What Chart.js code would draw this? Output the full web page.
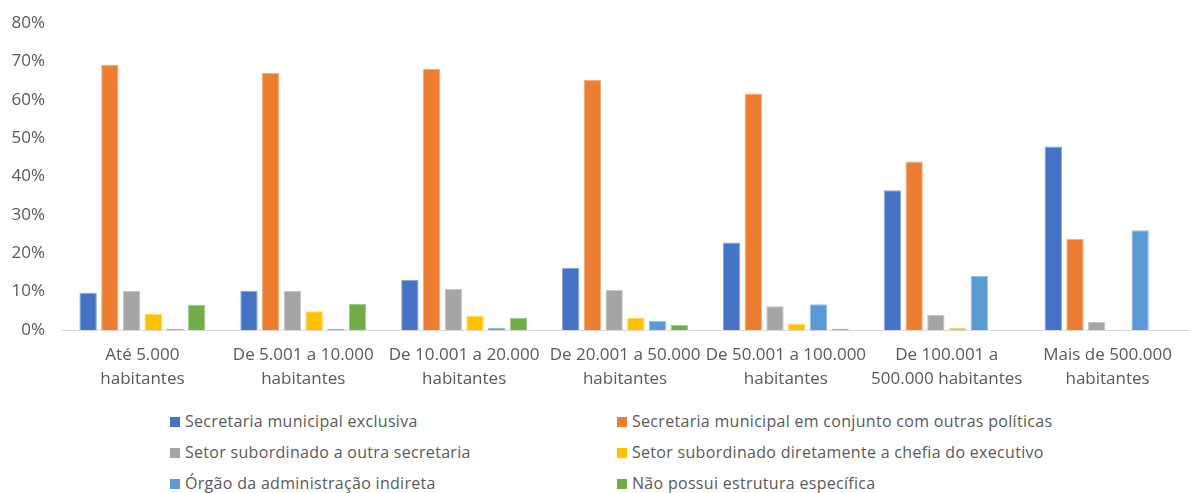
<!DOCTYPE html>
<html>
<head>
<meta charset="utf-8">
<script src="https://cdn.jsdelivr.net/npm/chart.js@4"></script>
<style>
  body { margin: 0; background: #fff; font-family: "Open Sans", sans-serif; }
  #wrap { position: relative; width: 1189px; height: 493px; }
  #chart { position: absolute; left: 0; top: 0; }
  .leg { position: absolute; font-size: 16px; letter-spacing: 0.3px; color: #595959; white-space: nowrap; line-height: 20px; }
  .leg span { display: inline-block; width: 10px; height: 10px; margin-right: 5px; vertical-align: 0px; }
</style>
</head>
<body>
<div id="wrap">
  <canvas id="chart" width="1189" height="400"></canvas>
  <div id="legend"></div>
</div>
<script>
// faixas de população
const categories = [
    ['Até 5.000', 'habitantes'],
    ['De 5.001 a 10.000', 'habitantes'],
    ['De 10.001 a 20.000', 'habitantes'],
    ['De 20.001 a 50.000', 'habitantes'],
    ['De 50.001 a 100.000', 'habitantes'],
    ['De 100.001 a', '500.000 habitantes'],
    ['Mais de 500.000', 'habitantes']
];

const seriesNames = [
    'Secretaria municipal exclusiva',
    'Secretaria municipal em conjunto com outras políticas',
    'Setor subordinado a outra secretaria',
    'Setor subordinado diretamente a chefia do executivo',
    'Órgão da administração indireta',
    'Não possui estrutura específica'
];

const seriesColors = ['#4472C4', '#ED7D31', '#A5A5A5', '#FFC000', '#5B9BD5', '#70AD47'];

// valores em %
const secExclusiva  = [9.7, 10.2, 13.1, 16.2, 22.8, 36.4, 47.8];
const secConjunto   = [69.1, 67.0, 68.0, 65.2, 61.6, 43.9, 23.8];
const setorOutraSec = [10.2, 10.2, 10.7, 10.4, 6.2, 4.0, 2.1];
const setorChefia   = [4.2, 4.9, 3.7, 3.2, 1.6, 0.6, 0];
const orgaoIndireta = [0.35, 0.35, 0.6, 2.4, 6.7, 14.1, 26.0];
const naoPossui     = [6.6, 6.8, 3.2, 1.4, 0.35, 0, 0];

const yTicks = [0, 10, 20, 30, 40, 50, 60, 70, 80];

const allSeries = [secExclusiva, secConjunto, setorOutraSec, setorChefia, orgaoIndireta, naoPossui];

function lighten(hex) {
    const n = parseInt(hex.slice(1), 16);
    const r = (n >> 16) & 255, g = (n >> 8) & 255, b = n & 255;
    const f = v => Math.round(v + (255 - v) * 0.35);
    return 'rgb(' + f(r) + ',' + f(g) + ',' + f(b) + ')';
}

new Chart(document.getElementById('chart'), {
    type: 'bar',
    data: {
        labels: categories,
        datasets: allSeries.map((vals, i) => ({
            label: seriesNames[i],
            data: vals,
            backgroundColor: seriesColors[i],
            borderColor: lighten(seriesColors[i]),
            borderWidth: 1,
            categoryPercentage: 0.81,
            barPercentage: 0.8
        }))
    },
    options: {
        responsive: false,
        animation: false,
        layout: { padding: { top: 23, right: 1, left: 0, bottom: 0 } },
        plugins: { legend: { display: false }, tooltip: { enabled: false } },
        scales: {
            x: {
                grid: { display: false },
                border: { display: true, color: '#D9D9D9', width: 1 },
                ticks: {
                    color: '#595959',
                    font: { family: 'Open Sans', size: 17, lineHeight: 1.4 },
                    maxRotation: 0,
                    autoSkip: false,
                    padding: 5
                },
                afterFit: s => { s.height = 70; }
            },
            y: {
                min: 0,
                max: 80,
                afterBuildTicks: s => { s.ticks = yTicks.map(v => ({ value: v })); },
                grid: { display: false },
                border: { display: false },
                ticks: {
                    color: '#595959',
                    font: { family: 'Open Sans', size: 17 },
                    padding: 9,
                    callback: v => v + '%'
                },
                afterFit: s => { s.width = 62; }
            }
        }
    }
});

// legenda em duas colunas
const legend = document.getElementById('legend');
const colX = [170, 617];
const rowY = [411, 442, 473];
seriesNames.forEach((name, i) => {
    const d = document.createElement('div');
    d.className = 'leg';
    d.style.left = colX[i % 2] + 'px';
    d.style.top = rowY[Math.floor(i / 2)] + 'px';
    d.innerHTML = '<span style="background:' + seriesColors[i] + '"></span>' + name;
    legend.appendChild(d);
});
</script>
</body>
</html>
